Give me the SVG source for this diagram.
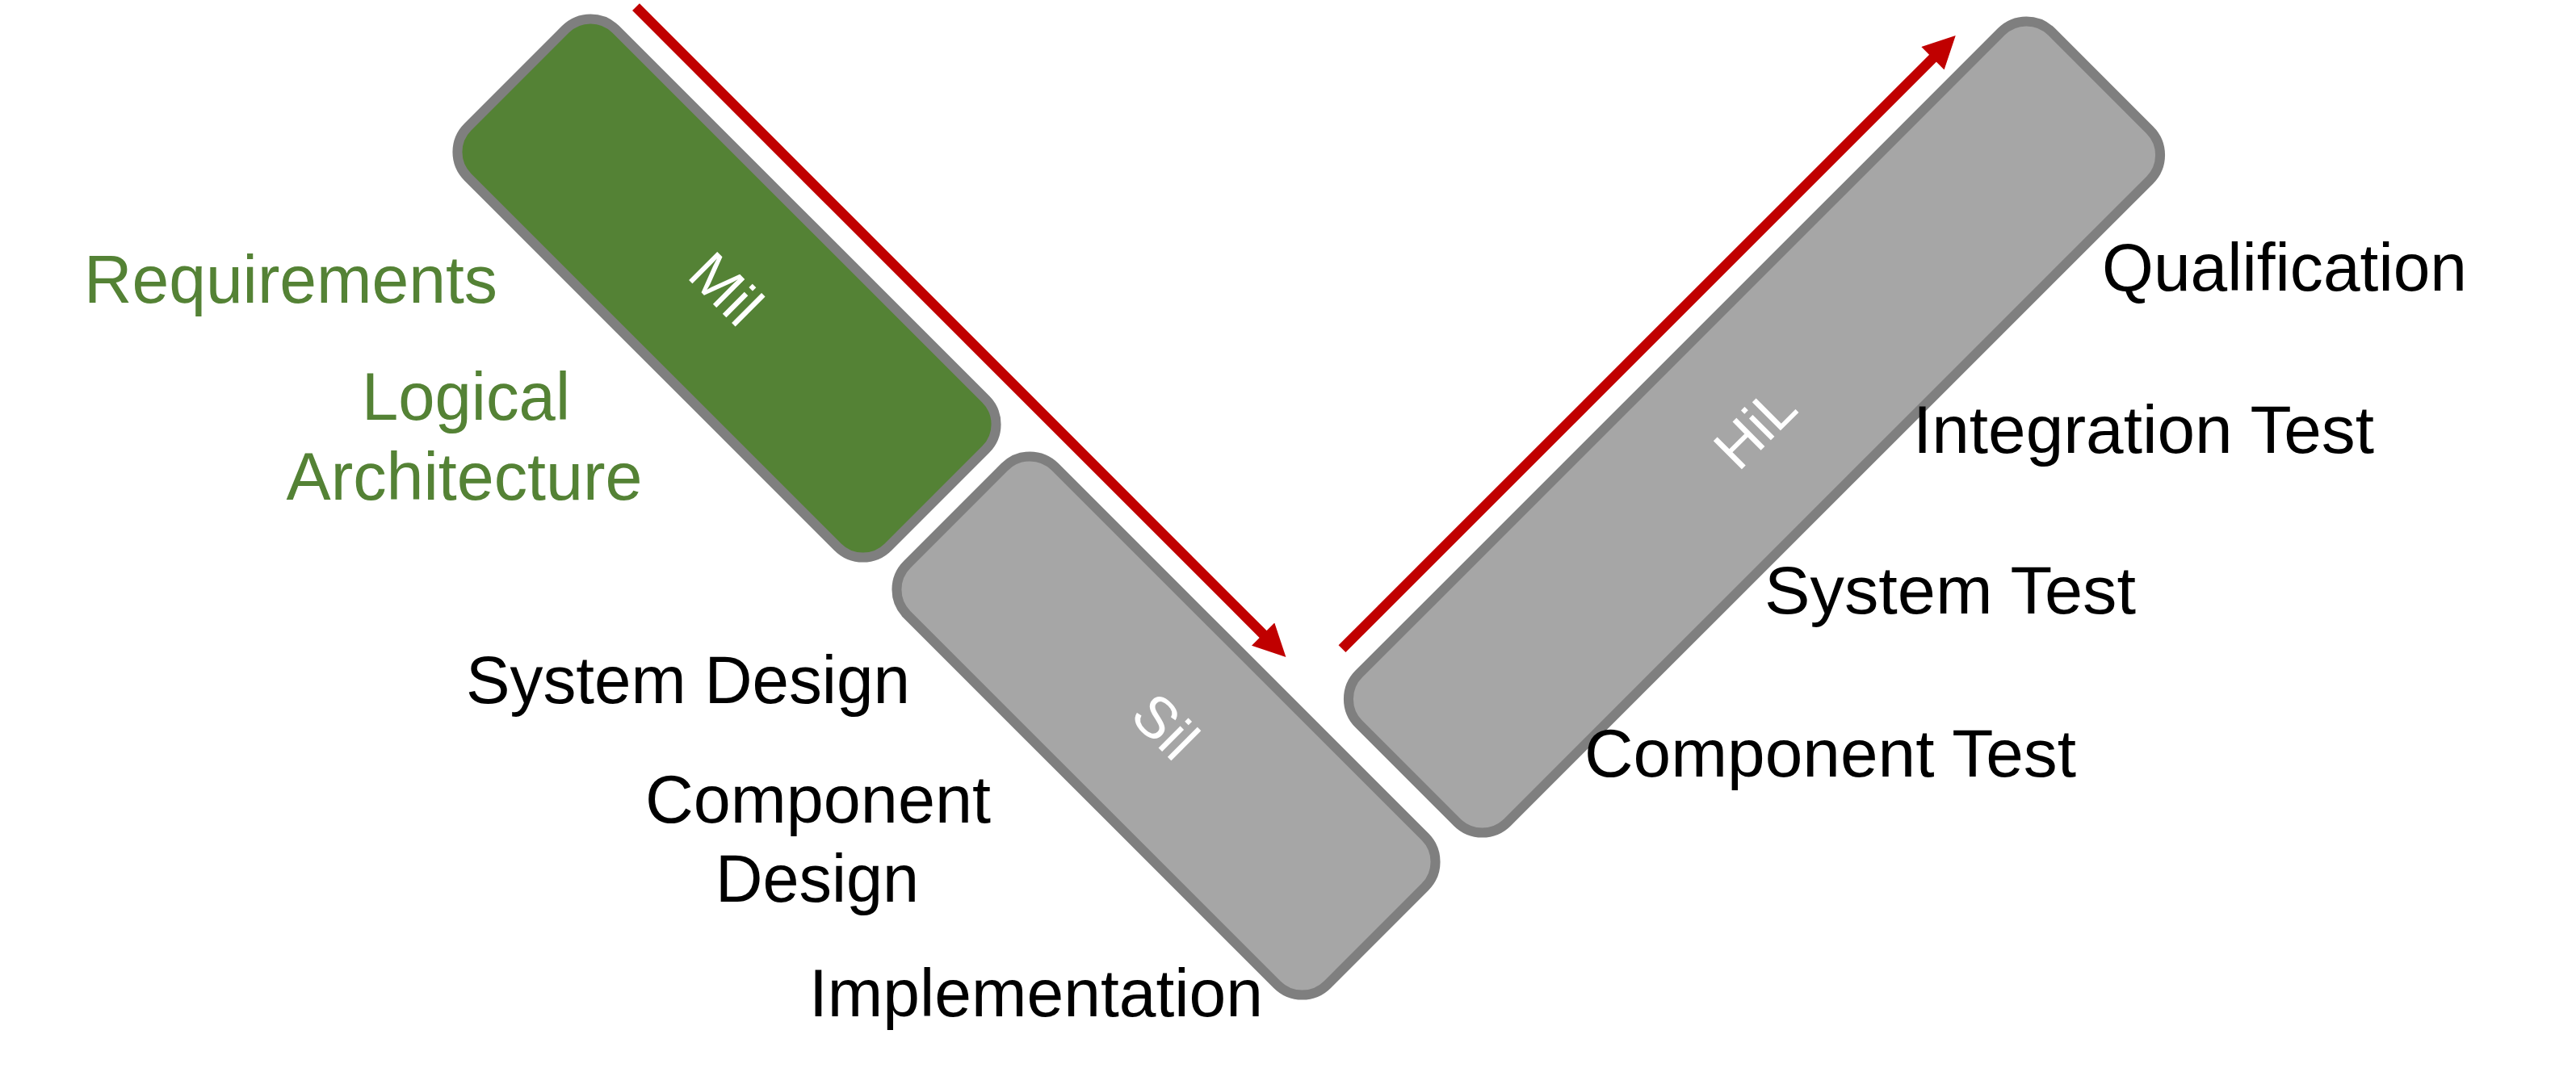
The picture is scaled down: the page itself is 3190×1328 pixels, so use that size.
<svg xmlns="http://www.w3.org/2000/svg" width="3190" height="1328" viewBox="0 0 3190 1328">
<style>
.box{stroke:#7f7f7f;stroke-width:12}
.green{fill:#548235}
.gray{fill:#a6a6a6}
.lbl{font-family:"Liberation Sans",Arial,sans-serif;font-size:72px;fill:#ffffff;text-anchor:middle}
.t{font-family:"Liberation Sans",Arial,sans-serif;font-size:84px;fill:#000000}
.tg{font-family:"Liberation Sans",Arial,sans-serif;font-size:84px;fill:#548235}
.arrow{fill:none;stroke:#c00000;stroke-width:12.5}
</style>
<defs>
<marker id="ah" viewBox="0 0 10 10" refX="0.3" refY="5" markerWidth="3.28" markerHeight="3.2" markerUnits="strokeWidth" orient="auto">
<path d="M0,0 L10,5 L0,10 z" fill="#c00000"/>
</marker>
</defs>
<rect width="3190" height="1328" fill="#ffffff"/>
<g id="mil" transform="translate(900,357) rotate(45)">
<rect class="box green" x="-368" y="-129.5" width="736" height="259" rx="44"/>
<text class="lbl" x="0" y="26">Mil</text>
</g>
<g id="sil" transform="translate(1444,899) rotate(45)">
<rect class="box gray" x="-368" y="-129.5" width="736" height="259" rx="44"/>
<text class="lbl" x="0" y="26">Sil</text>
</g>
<g id="hil" transform="translate(2172.5,529) rotate(-45)">
<rect class="box gray" x="-606.5" y="-130" width="1213" height="260" rx="44"/>
<text class="lbl" x="0" y="26">HiL</text>
</g>
<g id="connectors">
<path class="arrow" d="M787.5,8.7 L1565,786.5" marker-end="url(#ah)"/>
<path class="arrow" d="M1662,803.7 L2394.3,71.4" marker-end="url(#ah)"/>
</g>
<g id="left-labels">
<text class="tg" x="104" y="375" textLength="512" lengthAdjust="spacingAndGlyphs">Requirements</text>
<text class="tg" x="577" y="520" text-anchor="middle" textLength="258" lengthAdjust="spacingAndGlyphs">Logical</text>
<text class="tg" x="575" y="619" text-anchor="middle" textLength="441" lengthAdjust="spacingAndGlyphs">Architecture</text>
<text class="t" x="577" y="870.5" textLength="550" lengthAdjust="spacingAndGlyphs">System Design</text>
<text class="t" x="1013" y="1018.5" text-anchor="middle" textLength="428" lengthAdjust="spacingAndGlyphs">Component</text>
<text class="t" x="1012" y="1117" text-anchor="middle" textLength="252" lengthAdjust="spacingAndGlyphs">Design</text>
<text class="t" x="1002" y="1258.5" textLength="562" lengthAdjust="spacingAndGlyphs">Implementation</text>
</g>
<g id="right-labels">
<text class="t" x="2603" y="360" textLength="452" lengthAdjust="spacingAndGlyphs">Qualification</text>
<text class="t" x="2369" y="561" textLength="571" lengthAdjust="spacingAndGlyphs">Integration Test</text>
<text class="t" x="2185" y="760" textLength="460" lengthAdjust="spacingAndGlyphs">System Test</text>
<text class="t" x="1962" y="962" textLength="609" lengthAdjust="spacingAndGlyphs">Component Test</text>
</g>
</svg>
